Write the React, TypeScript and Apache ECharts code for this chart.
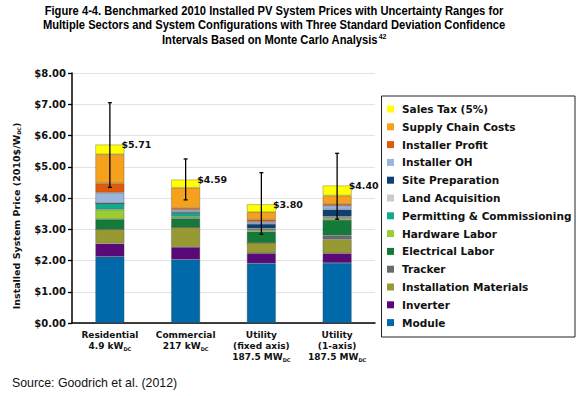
import React, { useEffect, useRef } from "react";
import * as echarts from "echarts";

const categories = ["Residential", "Commercial", "Utility\n(fixed axis)", "Utility\n(1-axis)"];
const capacities = ["4.9 kW", "217 kW", "187.5 MW", "187.5 MW"];

const module = [2.12, 2.03, 1.91, 1.92];
const inverter = [0.42, 0.4, 0.32, 0.31];
const installationMaterials = [0.46, 0.63, 0.34, 0.45];
const tracker = [0, 0, 0, 0.12];
const electricalLabor = [0.32, 0.29, 0.35, 0.5];
const hardwareLabor = [0.31, 0.05, 0.05, 0.06];
const permitting = [0.2, 0.13, 0.03, 0.02];
const landAcquisition = [0, 0.02, 0.03, 0.03];
const sitePreparation = [0, 0, 0.14, 0.22];
const installerOH = [0.34, 0.07, 0.07, 0.12];
const installerProfit = [0.3, 0.06, 0.07, 0.06];
const supplyChain = [0.93, 0.65, 0.24, 0.27];
const salesTax = [0.31, 0.26, 0.25, 0.32];

const totals = [5.71, 4.59, 3.8, 4.4];
const errLow = [4.34, 3.94, 2.84, 3.32];
const errHigh = [7.05, 5.25, 4.81, 5.43];

const components = [
  { name: "Module", color: "#0069AA", data: module },
  { name: "Inverter", color: "#5A0A78", data: inverter },
  { name: "Installation Materials", color: "#979933", data: installationMaterials },
  { name: "Tracker", color: "#656D71", data: tracker },
  { name: "Electrical Labor", color: "#137A3A", data: electricalLabor },
  { name: "Hardware Labor", color: "#9ACD34", data: hardwareLabor },
  { name: "Permitting & Commissioning", color: "#14A98E", data: permitting },
  { name: "Land Acquisition", color: "#C9CACA", data: landAcquisition },
  { name: "Site Preparation", color: "#0C3F72", data: sitePreparation },
  { name: "Installer OH", color: "#9BB6DA", data: installerOH },
  { name: "Installer Profit", color: "#DE5A0C", data: installerProfit },
  { name: "Supply Chain Costs", color: "#F6A11B", data: supplyChain },
  { name: "Sales Tax (5%)", color: "#FFFF00", data: salesTax },
];

const FONT = '"DejaVu Sans", Verdana, sans-serif';
const NARROW = '"Liberation Sans", Arial, sans-serif';

export default function App() {
  const ref = useRef<HTMLDivElement>(null);
  useEffect(() => {
    if (!ref.current) return;
    const chart = echarts.init(ref.current, undefined, { renderer: "svg" });
    const barSeries = components.map((c) => ({
      name: c.name,
      type: "bar",
      stack: "total",
      barWidth: 29,
      data: c.data,
      itemStyle: { color: c.color, borderColor: "rgba(70,70,70,0.55)", borderWidth: 0.6 },
    }));
    const option: any = {
      animation: false,
      grid: { left: 72, right: 205, top: 73, bottom: 73 },
      xAxis: {
        type: "category",
        data: categories,
        axisLine: { lineStyle: { color: "#000", width: 1.5 } },
        axisTick: { length: 37, lineStyle: { color: "#000", width: 1.3 }, interval: 0 },
        axisLabel: {
          interval: 0,
          margin: 6,
          color: "#111",
          fontFamily: FONT,
          fontWeight: "bold",
          fontSize: 9,
          lineHeight: 11,
          formatter: (v: string, i: number) => `${v}\n${capacities[i]}{sub|DC}`,
          rich: {
            sub: { fontFamily: FONT, fontWeight: "bold", fontSize: 5, lineHeight: 6, verticalAlign: "bottom", color: "#111" },
          },
        },
      },
      yAxis: {
        type: "value",
        min: 0,
        max: 8,
        interval: 1,
        axisLine: { show: true, lineStyle: { color: "#000", width: 1.5 } },
        axisTick: { show: true, length: 4, lineStyle: { color: "#000", width: 1.3 } },
        axisLabel: {
          margin: 6,
          color: "#111",
          fontFamily: FONT,
          fontWeight: "bold",
          fontSize: 10,
          formatter: (v: number) => "$" + v.toFixed(2),
        },
        splitLine: { lineStyle: { color: "#E2E2E2", width: 1.2 } },
      },
      legend: {
        orient: "vertical",
        left: 387,
        top: 102.5,
        padding: 0,
        itemWidth: 7,
        itemHeight: 7,
        itemGap: 4.8,
        icon: "rect",
        itemStyle: { borderWidth: 0 },
        data: components.map((c) => c.name).reverse(),
        textStyle: {
          fontFamily: FONT,
          fontWeight: "bold",
          fontSize: 10.5,
          lineHeight: 13,
          color: "#111",
          padding: [0, 0, 0, 3],
        },
      },
      graphic: [
        {
          type: "text",
          x: 274,
          y: 3,
          scaleX: 0.86,
          style: {
            text: "Figure 4-4. Benchmarked 2010 Installed PV System Prices with Uncertainty Ranges for\nMultiple Sectors and System Configurations with Three Standard Deviation Confidence\nIntervals Based on Monte Carlo Analysis{sup|42}",
            font: `bold 13px ${NARROW}`,
            fill: "#000",
            align: "center",
            verticalAlign: "top",
            lineHeight: 14.5,
            rich: {
              sup: { font: `bold 8px ${NARROW}`, fill: "#000", lineHeight: 14.5, verticalAlign: "top", padding: [0, 0, 5, 1] },
            },
          },
        },
        {
          type: "text",
          x: 12,
          y: 383,
          scaleX: 0.95,
          style: {
            text: "Source: Goodrich et al. (2012)",
            font: `13px ${NARROW}`,
            fill: "#111",
            align: "left",
            verticalAlign: "middle",
          },
        },
        {
          type: "text",
          x: 16,
          y: 216,
          rotation: Math.PI / 2,
          style: {
            text: "Installed System Price (2010$/W{sub|DC})",
            font: `bold 9.5px ${FONT}`,
            fill: "#111",
            align: "center",
            verticalAlign: "middle",
            rich: {
              sub: { font: `bold 5px ${FONT}`, fill: "#111", lineHeight: 6, verticalAlign: "bottom" },
            },
          },
        },
        {
          type: "rect",
          shape: { x: 381.5, y: 96, width: 193.5, height: 241 },
          style: { fill: "none", stroke: "#222", lineWidth: 1 },
          silent: true,
        },
      ],
      series: [
        ...barSeries,
        {
          type: "custom",
          name: "err",
          z: 10,
          data: errLow.map((l, i) => [i, l, errHigh[i]]),
          encode: { x: 0, y: [1, 2] },
          renderItem: (_p: any, api: any) => {
            const x = api.value(0);
            const lo = api.coord([x, api.value(1)]);
            const hi = api.coord([x, api.value(2)]);
            const cap = 2;
            const st = { stroke: "#000", lineWidth: 1.3 };
            return {
              type: "group",
              children: [
                { type: "line", shape: { x1: lo[0], y1: lo[1], x2: hi[0], y2: hi[1] }, style: st },
                { type: "line", shape: { x1: lo[0] - cap, y1: lo[1], x2: lo[0] + cap, y2: lo[1] }, style: st },
                { type: "line", shape: { x1: hi[0] - cap, y1: hi[1], x2: hi[0] + cap, y2: hi[1] }, style: st },
              ],
            };
          },
        },
        {
          type: "custom",
          name: "totals",
          z: 11,
          data: totals.map((t, i) => [i, t]),
          encode: { x: 0, y: 1 },
          renderItem: (_p: any, api: any) => {
            const pt = api.coord([api.value(0), api.value(1)]);
            return {
              type: "text",
              x: pt[0] + 11.5,
              y: pt[1],
              style: {
                text: "$" + Number(api.value(1)).toFixed(2),
                font: `bold 9.5px ${FONT}`,
                fill: "#111",
                align: "left",
                verticalAlign: "middle",
              },
            };
          },
        },
      ],
    };
    chart.setOption(option);
    return () => chart.dispose();
  }, []);
  return (
    <div
      ref={ref}
      style={{ position: "fixed", left: 0, top: 0, width: 580, height: 396, background: "#fff" }}
    />
  );
}
